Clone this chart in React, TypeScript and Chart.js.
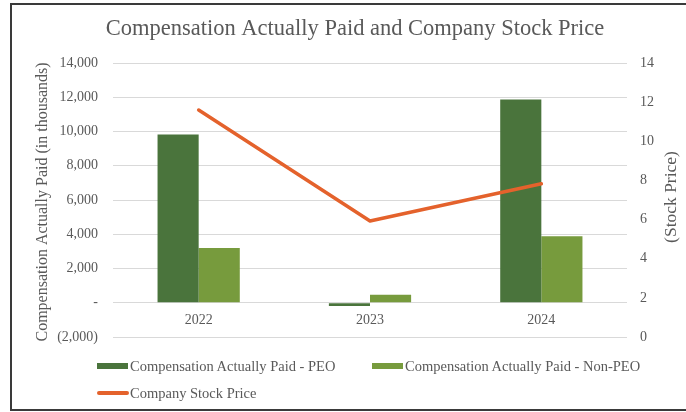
import React, { useEffect, useRef } from "react";
import { Chart, registerables } from "chart.js";

Chart.register(...registerables);

const categories = ["2022", "2023", "2024"];
const peoValues = [9830, -190, 11870];
const nonPeoValues = [3200, 470, 3880];
const stockPrice = [11.6, 5.93, 7.83];

const titleText = "Compensation Actually Paid and Company Stock Price";
const leftAxisTitle = "Compensation Actually Paid (in thousands)";
const rightAxisTitle = "(Stock Price)";
const peoLabel = "Compensation Actually Paid - PEO";
const nonPeoLabel = "Compensation Actually Paid - Non-PEO";
const stockLabel = "Company Stock Price";

const PEO_COLOR = "#4a743c";
const NONPEO_COLOR = "#779b3d";
const STOCK_COLOR = "#e4622c";
const TEXT = "#595959";
const SERIF = '"Liberation Serif", "Times New Roman", serif';

const titlesPlugin = {
  id: "customTitles",
  afterDraw(chart: any) {
    const ctx = chart.ctx;
    ctx.save();
    ctx.fillStyle = TEXT;
    ctx.font = `22.5px ${SERIF}`;
    ctx.textAlign = "center";
    ctx.textBaseline = "alphabetic";
    ctx.fillText(titleText, 355, 35);

    ctx.font = `16px ${SERIF}`;
    ctx.textBaseline = "middle";
    ctx.save();
    ctx.translate(43, 202);
    ctx.rotate(-Math.PI / 2);
    ctx.fillText(leftAxisTitle, 0, 0);
    ctx.restore();

    ctx.font = `17.5px ${SERIF}`;
    ctx.save();
    ctx.translate(671, 197);
    ctx.rotate(-Math.PI / 2);
    ctx.fillText(rightAxisTitle, 0, 0);
    ctx.restore();
    ctx.restore();
  },
};

function fmtThousands(v: number) {
  if (v === 0) return "-";
  const s = Math.abs(v).toLocaleString("en-US");
  return v < 0 ? `(${s})` : s;
}

export default function App() {
  const canvasRef = useRef<HTMLCanvasElement | null>(null);

  useEffect(() => {
    const canvas = canvasRef.current;
    if (!canvas) return;
    const chart = new Chart(canvas, {
      type: "bar",
      data: {
        labels: categories,
        datasets: [
          {
            type: "line",
            label: stockLabel,
            data: stockPrice,
            yAxisID: "y1",
            borderColor: STOCK_COLOR,
            backgroundColor: STOCK_COLOR,
            borderWidth: 3.5,
            borderCapStyle: "round",
            borderJoinStyle: "round",
            pointRadius: 0,
            tension: 0,
            order: 0,
          } as any,
          {
            type: "bar",
            label: peoLabel,
            data: peoValues,
            yAxisID: "y",
            backgroundColor: PEO_COLOR,
            categoryPercentage: 0.48,
            barPercentage: 1,
            order: 1,
          },
          {
            type: "bar",
            label: nonPeoLabel,
            data: nonPeoValues,
            yAxisID: "y",
            backgroundColor: NONPEO_COLOR,
            categoryPercentage: 0.48,
            barPercentage: 1,
            order: 1,
          },
        ],
      },
      options: {
        responsive: false,
        animation: false,
        layout: { padding: { top: 63, bottom: 75, left: 0, right: 0 } },
        plugins: {
          legend: { display: false },
          title: { display: false },
          tooltip: { enabled: false },
        },
        scales: {
          x: {
            type: "category",
            position: { y: 0 } as any,
            offset: true,
            grid: { display: false, drawTicks: false },
            border: { display: false },
            ticks: {
              color: TEXT,
              font: { family: SERIF, size: 14 },
              padding: 9,
              maxRotation: 0,
            },
          },
          y: {
            position: "left",
            min: -2000,
            max: 14000,
            ticks: {
              stepSize: 2000,
              color: TEXT,
              font: { family: SERIF, size: 14 },
              padding: 15,
              callback: (v: any) => fmtThousands(Number(v)),
            },
            grid: { color: "#d9d9d9", lineWidth: 1, drawTicks: false },
            border: { display: false },
            afterFit: (scale: any) => {
              scale.width = 113;
            },
          },
          y1: {
            position: "right",
            min: 0,
            max: 14,
            ticks: {
              stepSize: 2,
              color: TEXT,
              font: { family: SERIF, size: 14 },
              padding: 13,
            },
            grid: { drawOnChartArea: false, drawTicks: false },
            border: { display: false },
            afterFit: (scale: any) => {
              scale.width = 59;
            },
          },
        },
      } as any,
      plugins: [titlesPlugin],
    });
    return () => chart.destroy();
  }, []);

  const legendText: React.CSSProperties = {
    position: "absolute",
    fontFamily: SERIF,
    fontSize: 14.5,
    color: TEXT,
    lineHeight: "16px",
    whiteSpace: "nowrap",
  };

  return (
    <div
      style={{
        position: "absolute",
        left: 0,
        top: 0,
        width: 686,
        height: 412,
        overflow: "hidden",
        background: "#ffffff",
      }}
    >
      <canvas
        ref={canvasRef}
        width={686}
        height={412}
        style={{ position: "absolute", left: 0, top: 0, display: "block" }}
      />
      <div
        style={{
          position: "absolute",
          left: 10,
          top: 3,
          width: 700,
          height: 404,
          borderTop: "2px solid #3a3a3a",
          borderLeft: "2px solid #3a3a3a",
          borderBottom: "2px solid #3a3a3a",
          borderRight: "none",
          pointerEvents: "none",
        }}
      />
      <div style={{ position: "absolute", left: 97, top: 363, width: 31, height: 6, background: PEO_COLOR }} />
      <div style={{ ...legendText, left: 130, top: 358 }}>{peoLabel}</div>
      <div style={{ position: "absolute", left: 372, top: 363, width: 31, height: 6, background: NONPEO_COLOR }} />
      <div style={{ ...legendText, left: 405, top: 358 }}>{nonPeoLabel}</div>
      <div style={{ position: "absolute", left: 97, top: 391, width: 32, height: 3.5, background: STOCK_COLOR, borderRadius: 2 }} />
      <div style={{ ...legendText, left: 130, top: 385 }}>{stockLabel}</div>
    </div>
  );
}
